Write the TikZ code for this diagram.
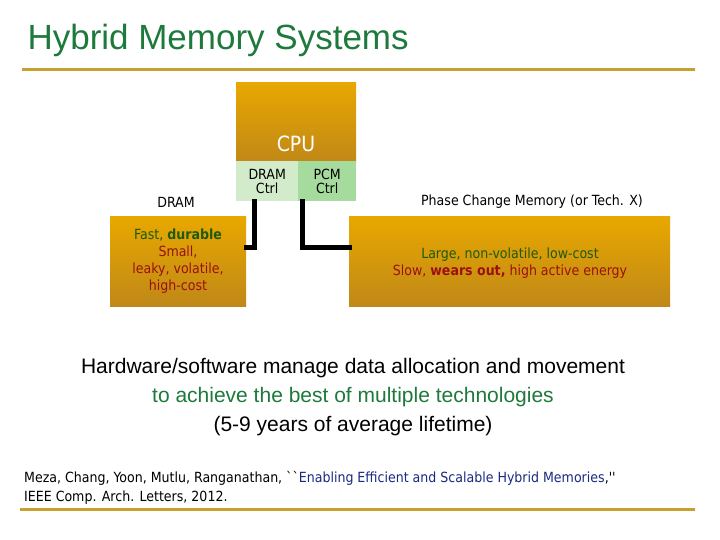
\documentclass[tikz,border=0pt]{standalone}
\usepackage{fontspec}
\setmainfont{Liberation Sans}
\newfontfamily\tah{DejaVu Sans Condensed}
\definecolor{gold}{HTML}{C8A030}
\definecolor{titleg}{HTML}{1E7A3C}
\definecolor{dg}{HTML}{1F5A0A}
\definecolor{dr}{HTML}{9A1010}
\definecolor{gtop}{HTML}{E8A800}
\definecolor{gbot}{HTML}{C08818}
\definecolor{refb}{HTML}{1A2A80}
\definecolor{lg1}{HTML}{D2ECCB}
\definecolor{lg2}{HTML}{A6DB9E}
\begin{document}
\begin{tikzpicture}[x=1pt,y=-1pt,
  goldbox/.style={draw=none,top color=gtop,bottom color=gbot},
  wire/.style={line width=5pt,line cap=rect},
  lbl/.style={font=\tah\fontsize{14}{17}\selectfont,align=center}]
\useasboundingbox (0,0) rectangle (720,540);
\fill[white] (0,0) rectangle (720,540);
\node[anchor=west,text=titleg,font=\fontsize{35}{40}\selectfont] (title) at (24,40) {Hybrid Memory Systems};
\draw[gold,line width=3pt] (22,70) -- (695,70);
\draw[gold,line width=3pt] (20,509) -- (695,509);
% CPU
\node[goldbox,minimum width=120,minimum height=80,anchor=north west,inner sep=0] (cpu) at (236,82) {};
\node[text=white,font=\tah\fontsize{21}{24}\selectfont] (cpul) at (296,144) {CPU};
\node[fill=lg1,draw=none,minimum width=62,minimum height=40,anchor=north west,inner sep=0,lbl,text=black] (dctrl) at (236,161) {DRAM\\[-3pt]Ctrl};
\node[fill=lg2,draw=none,minimum width=58,minimum height=40,anchor=north west,inner sep=0,lbl,text=black] (pctrl) at (298,161) {PCM\\[-3pt]Ctrl};
% memories
\node[goldbox,minimum width=136,minimum height=90,anchor=north west,inner sep=0] (dram) at (110,216) {};
\node[lbl] at (178,261) {\textcolor{dg}{Fast, \textbf{durable}}\\\textcolor{dr}{Small,}\\\textcolor{dr}{leaky, volatile,}\\\textcolor{dr}{high-cost}};
\node[goldbox,minimum width=321,minimum height=90,anchor=north west,inner sep=0] (pcm) at (349,216) {};
\node[lbl] at (510,263) {\textcolor{dg}{Large, non-volatile, low-cost}\\\textcolor{dr}{Slow, \textbf{wears out,} high active energy}};
\node[lbl] (dl) at (176,202) {DRAM};
\node[lbl] (pl) at (532,202) {Phase Change Memory (or Tech. X)};
\coordinate (c1) at (254,247);
\coordinate (c2) at (302,247);
\draw[wire] (dctrl.south -| c1) -- (c1) -- (dram.east |- c1);
\draw[wire] (pctrl.south -| c2) -- (c2) -- (pcm.west |- c2);
% text
\node[align=center,font=\fontsize{21}{29}\selectfont] (main) at (353,397) {Hardware/software manage data allocation and movement\\\textcolor{titleg}{to achieve the best of multiple technologies}\\(5-9 years of average lifetime)};
\node[anchor=north west,align=left,font=\tah\fontsize{14}{19}\selectfont,inner sep=0] (ref) at (24,471) {Meza, Chang, Yoon, Mutlu, Ranganathan, ``\textcolor{refb}{Enabling Efficient and Scalable Hybrid Memories},''\\IEEE Comp. Arch. Letters, 2012.};
\end{tikzpicture}
\end{document}
